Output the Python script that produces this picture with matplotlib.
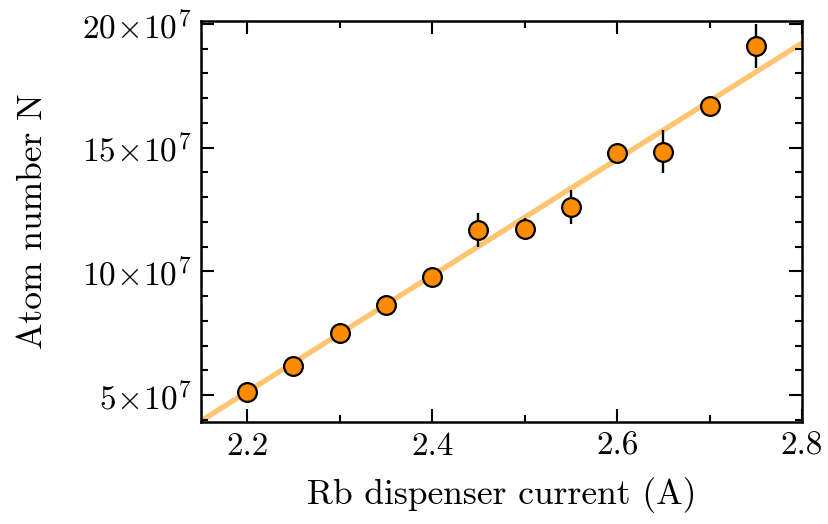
import numpy as np
import matplotlib
matplotlib.use("Agg")
import matplotlib.pyplot as plt
from matplotlib.ticker import FuncFormatter, MultipleLocator

plt.rcParams["font.family"] = "cmr10"
plt.rcParams["mathtext.fontset"] = "cm"
plt.rcParams["axes.formatter.use_mathtext"] = True

# data
current = [2.20, 2.25, 2.30, 2.35, 2.40, 2.45, 2.50, 2.55, 2.60, 2.65, 2.70, 2.75]
atoms_1e7 = [5.12, 6.17, 7.51, 8.64, 9.77, 11.67, 11.71, 12.60, 14.79, 14.83, 16.69, 19.11]
err_1e7 = [0.15, 0.15, 0.2, 0.2, 0.2, 0.69, 0.45, 0.67, 0.25, 0.87, 0.25, 0.9]

fit_slope = 23.5   # 1e7 per A
fit_at_22 = 5.13   # 1e7 at 2.2 A

atoms = np.array(atoms_1e7) * 1e7
err = np.array(err_1e7) * 1e7

fig = plt.figure(figsize=(8.29, 5.24), dpi=100)
ax = fig.add_axes([0.2425, 0.1947, 0.7249, 0.7652])

xfit = np.array([2.15, 2.8])
yfit = (fit_at_22 + fit_slope * (xfit - 2.2)) * 1e7
ax.plot(xfit, yfit, color="#ffc470", lw=3.8, zorder=1)

ax.errorbar(current, atoms, yerr=err, fmt="o", color="black", ecolor="black",
            elinewidth=1.7, capsize=0, markersize=13.5, markerfacecolor="#ff8c00",
            markeredgecolor="black", markeredgewidth=1.6, zorder=3)

ax.set_xlim(2.15, 2.8)
ax.set_ylim(3.91e7, 20.12e7)

ax.xaxis.set_major_locator(MultipleLocator(0.2))
ax.xaxis.set_minor_locator(MultipleLocator(0.1))
ax.yaxis.set_major_locator(MultipleLocator(5e7))
ax.yaxis.set_minor_locator(MultipleLocator(1e7))
ax.xaxis.set_major_formatter(FuncFormatter(lambda v, p: f"{v:.1f}"))
ax.yaxis.set_major_formatter(FuncFormatter(lambda v, p: r"$%d\!\times\!10^{7}$" % round(v / 1e7)))

ax.tick_params(which="both", direction="in", top=True, right=True, width=1.5,
               labelsize=24, pad=7)
ax.tick_params(which="major", length=9.5)
ax.tick_params(which="minor", length=5)
for s in ax.spines.values():
    s.set_linewidth(1.8)

ax.set_xlabel("Rb dispenser current (A)", fontsize=25.5, labelpad=12)
ax.set_ylabel("Atom number N", fontsize=25.5, labelpad=24)

fig.savefig("out.png", dpi=100)
